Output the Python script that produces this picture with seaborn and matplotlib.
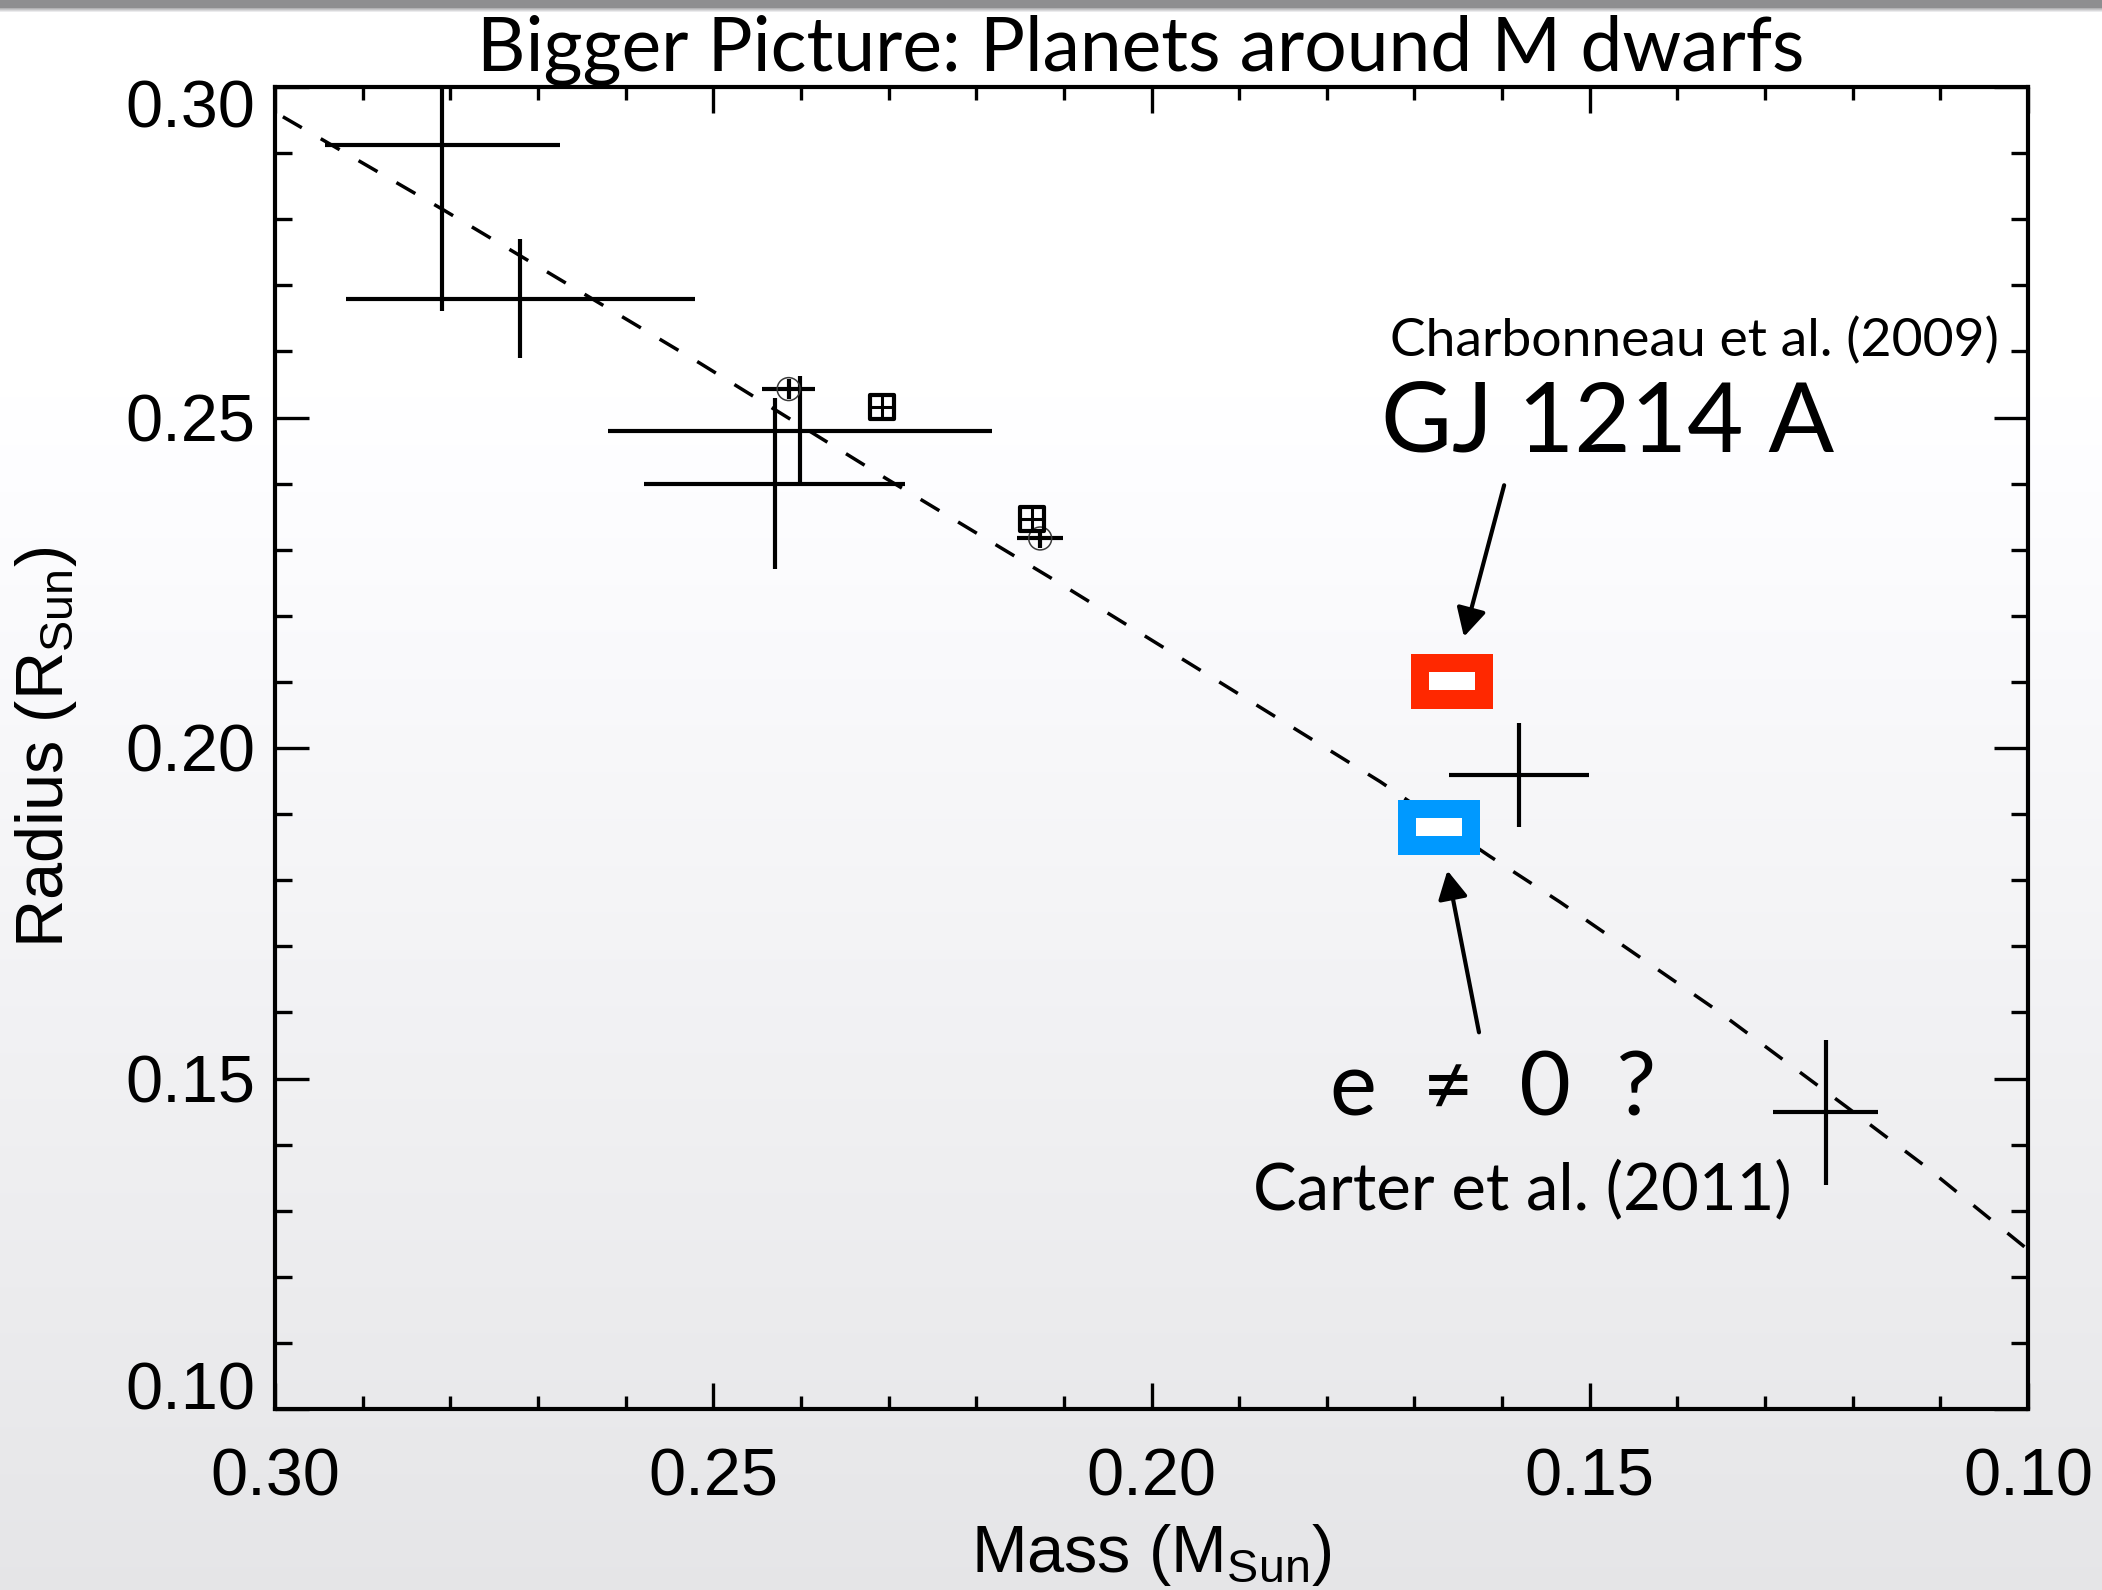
import numpy as np
import pandas as pd
import matplotlib
matplotlib.use("Agg")
import matplotlib.pyplot as plt
from matplotlib.patches import Rectangle
from matplotlib.ticker import MultipleLocator
from matplotlib.transforms import ScaledTranslation
import seaborn as sns

# ---------------------------------------------------------------- data
# eclipsing-binary M dwarfs with mass / radius uncertainties
eb_mass = [0.2809, 0.2720, 0.2401, 0.2430, 0.1581, 0.1231]
eb_radius = [0.2913, 0.2680, 0.2480, 0.2400, 0.1959, 0.1449]
eb_mass_err = [0.0134, 0.0199, 0.0219, 0.0149, 0.0080, 0.0060]
eb_radius_err = [0.0252, 0.0090, 0.0083, 0.0129, 0.0079, 0.0110]

# precise measurements drawn as open circles
circle_mass = [0.2414, 0.2127]
circle_radius = [0.2543, 0.2317]
circle_mass_err = [0.0030, 0.0026]
circle_radius_err = [0.0015, 0.0014]

# boxed measurements
box_mass = [0.2307, 0.2136]
box_radius = [0.2516, 0.2347]

# GJ 1214 A estimates
gj_source = ["Charbonneau et al. (2009)", "Carter et al. (2011)"]
gj_mass = [0.1657, 0.1672]
gj_radius = [0.2101, 0.1880]
gj_colors = ["#ff2800", "#0099ff"]

# model mass-radius relation
model_mass = [0.2991, 0.2809, 0.2515, 0.2302, 0.2112, 0.1941, 0.1739,
              0.1615, 0.1534, 0.1357, 0.1207, 0.1118, 0.1000]
model_radius = [0.2955, 0.2815, 0.2582, 0.2407, 0.2255, 0.2115, 0.1949,
                0.1837, 0.1767, 0.1605, 0.1457, 0.1368, 0.1241]

x_ticks = [0.30, 0.25, 0.20, 0.15, 0.10]
x_tick_labels = ["0.30", "0.25", "0.20", "0.15", "0.10"]
y_ticks = [0.10, 0.15, 0.20, 0.25, 0.30]
y_tick_labels = ["0.10", "0.15", "0.20", "0.25", "0.30"]

# ---------------------------------------------------------------- style
sns.set_theme(style="ticks")
plt.rcParams["font.family"] = ["Liberation Sans", "DejaVu Sans"]
plt.rcParams["mathtext.fontset"] = "custom"
plt.rcParams["mathtext.rm"] = "Liberation Sans"
plt.rcParams["axes.edgecolor"] = "black"
plt.rcParams["xtick.color"] = "black"
plt.rcParams["ytick.color"] = "black"
plt.rcParams["text.color"] = "black"
plt.rcParams["axes.labelcolor"] = "black"

HUMANIST = ["Lato", "DejaVu Sans"]
W, H, DPI = 2102, 1590, 100
PX = 72.0 / DPI  # points per pixel

fig = plt.figure(figsize=(W / DPI, H / DPI), dpi=DPI)

# slide background: white fading to light grey, with a dark strip on top
bg = fig.add_axes([0, 0, 1, 1], zorder=-10)
t = np.arange(H) / H
shade = np.where(t < 0.25, 1.0, 1.0 - (t - 0.25) / 0.75 * 0.10)
shade[:8] = 0.56
shade[8:13] = np.linspace(0.7, 1.0, 5)
img = np.dstack([shade, shade, np.minimum(shade + 0.008, 1.0)]).reshape(H, 1, 3)
bg.imshow(img, aspect="auto", extent=[0, 1, 0, 1], interpolation="bilinear")
bg.set_axis_off()

# plotting frame
L, R, T, B = 275, 2028, 87, 1409
ax = fig.add_axes([L / W, 1 - B / H, (R - L) / W, (B - T) / H])
ax.patch.set_alpha(0)
ax.set_xlim(0.30, 0.10)
ax.set_ylim(0.10, 0.30)
for sp in ax.spines.values():
    sp.set_linewidth(3.0)
    sp.set_color("black")

# model curve
model = pd.DataFrame({"mass": model_mass, "radius": model_radius})
sns.lineplot(data=model, x="mass", y="radius", ax=ax, color="black",
             linewidth=2.5, estimator=None, sort=False, errorbar=None, zorder=2)
ax.lines[-1].set_dashes([6.3, 6.3])

# error-bar crosses
ax.errorbar(eb_mass, eb_radius, xerr=eb_mass_err, yerr=eb_radius_err,
            fmt="none", ecolor="black", elinewidth=3.0, capsize=0, zorder=3)
ax.errorbar(circle_mass, circle_radius, xerr=circle_mass_err, yerr=circle_radius_err,
            fmt="none", ecolor="black", elinewidth=3.0, capsize=0, zorder=3)

circles = pd.DataFrame({"mass": circle_mass, "radius": circle_radius})
sns.scatterplot(data=circles, x="mass", y="radius", ax=ax, marker="o",
                s=16.5 ** 2, facecolor="none", edgecolor="#3a3a3a",
                linewidth=1.1, zorder=4, legend=False)

boxes = pd.DataFrame({"mass": box_mass, "radius": box_radius})
sns.scatterplot(data=boxes, x="mass", y="radius", ax=ax, marker="s",
                s=17.3 ** 2, facecolor="none", edgecolor="black",
                linewidth=3.0, zorder=4, legend=False)
sns.scatterplot(data=boxes, x="mass", y="radius", ax=ax, marker="+",
                s=17.3 ** 2, color="black", linewidth=2.2, zorder=4, legend=False)

# GJ 1214 A boxes (outer coloured frame with a white core)
RECT_W, RECT_H = 0.00943, 0.00837
HOLE_W, HOLE_H = 0.00517, 0.00277
for m, r, c in zip(gj_mass, gj_radius, gj_colors):
    ax.add_patch(Rectangle((m - RECT_W / 2, r - RECT_H / 2), RECT_W, RECT_H,
                           facecolor=c, edgecolor="none", zorder=5))
    ax.add_patch(Rectangle((m - HOLE_W / 2, r - HOLE_H / 2), HOLE_W, HOLE_H,
                           facecolor="white", edgecolor="none", zorder=6))

arrow_style = "-|>,head_length=0.85,head_width=0.45"
ax.annotate("", xy=(gj_mass[0], gj_radius[0]), xytext=(52 * PX, 196 * PX),
            textcoords="offset points",
            arrowprops=dict(arrowstyle=arrow_style, color="black", lw=3.0,
                            mutation_scale=20, shrinkA=0, shrinkB=46 * PX))
ax.annotate("", xy=(gj_mass[1], gj_radius[1]), xytext=(40 * PX, -205 * PX),
            textcoords="offset points",
            arrowprops=dict(arrowstyle=arrow_style, color="black", lw=3.0,
                            mutation_scale=20, shrinkA=0, shrinkB=44 * PX))

# axes, ticks and labels
ax.set_xticks(x_ticks)
ax.set_xticklabels(x_tick_labels)
ax.set_yticks(y_ticks)
ax.set_yticklabels(y_tick_labels)
ax.xaxis.set_minor_locator(MultipleLocator(0.01))
ax.yaxis.set_minor_locator(MultipleLocator(0.01))
ax.tick_params(which="both", direction="in", top=True, right=True,
               width=2.4, labelsize=48)
ax.tick_params(axis="x", which="major", length=26 * PX, pad=28)
ax.tick_params(axis="x", which="minor", length=13 * PX)
ax.tick_params(axis="y", which="major", length=34 * PX, pad=14)
ax.tick_params(axis="y", which="minor", length=17 * PX)

ylab = ax.get_yticklabels()
ylab[0].set_transform(ylab[0].get_transform() +
                      ScaledTranslation(0, 24 / DPI, fig.dpi_scale_trans))
ylab[-1].set_transform(ylab[-1].get_transform() +
                       ScaledTranslation(0, -17 / DPI, fig.dpi_scale_trans))

ax.set_xlabel(r"Mass ($\mathregular{M_{Sun}}$)", fontsize=48)
ax.xaxis.label.set_va("baseline")
ax.xaxis.set_label_coords(0.5, (B - 1572) / (B - T))
ax.set_ylabel(r"Radius ($\mathregular{R_{Sun}}$)", fontsize=48)
ax.yaxis.label.set_va("center")
ax.yaxis.set_label_coords((46 - L) / (R - L), (B - 747) / (B - T))


def fig_text(x_px, y_px, s, **kw):
    return fig.text(x_px / W, 1 - y_px / H, s, **kw)


fig_text(1141, 71, "Bigger Picture: Planets around M dwarfs",
         family=HUMANIST, fontsize=54, ha="center", va="baseline")
fig_text(1694, 356, gj_source[0], family=HUMANIST, fontsize=38.5,
         ha="center", va="baseline")
fig_text(1608, 452, "GJ 1214 A", family=HUMANIST, fontsize=70,
         ha="center", va="baseline")
fig_text(1493, 1115, "e  \u2260  0  ?", family=HUMANIST, fontsize=64,
         ha="center", va="baseline")
fig_text(1522, 1209, gj_source[1], family=HUMANIST, fontsize=47,
         ha="center", va="baseline")

fig.savefig("out.png", dpi=DPI)
